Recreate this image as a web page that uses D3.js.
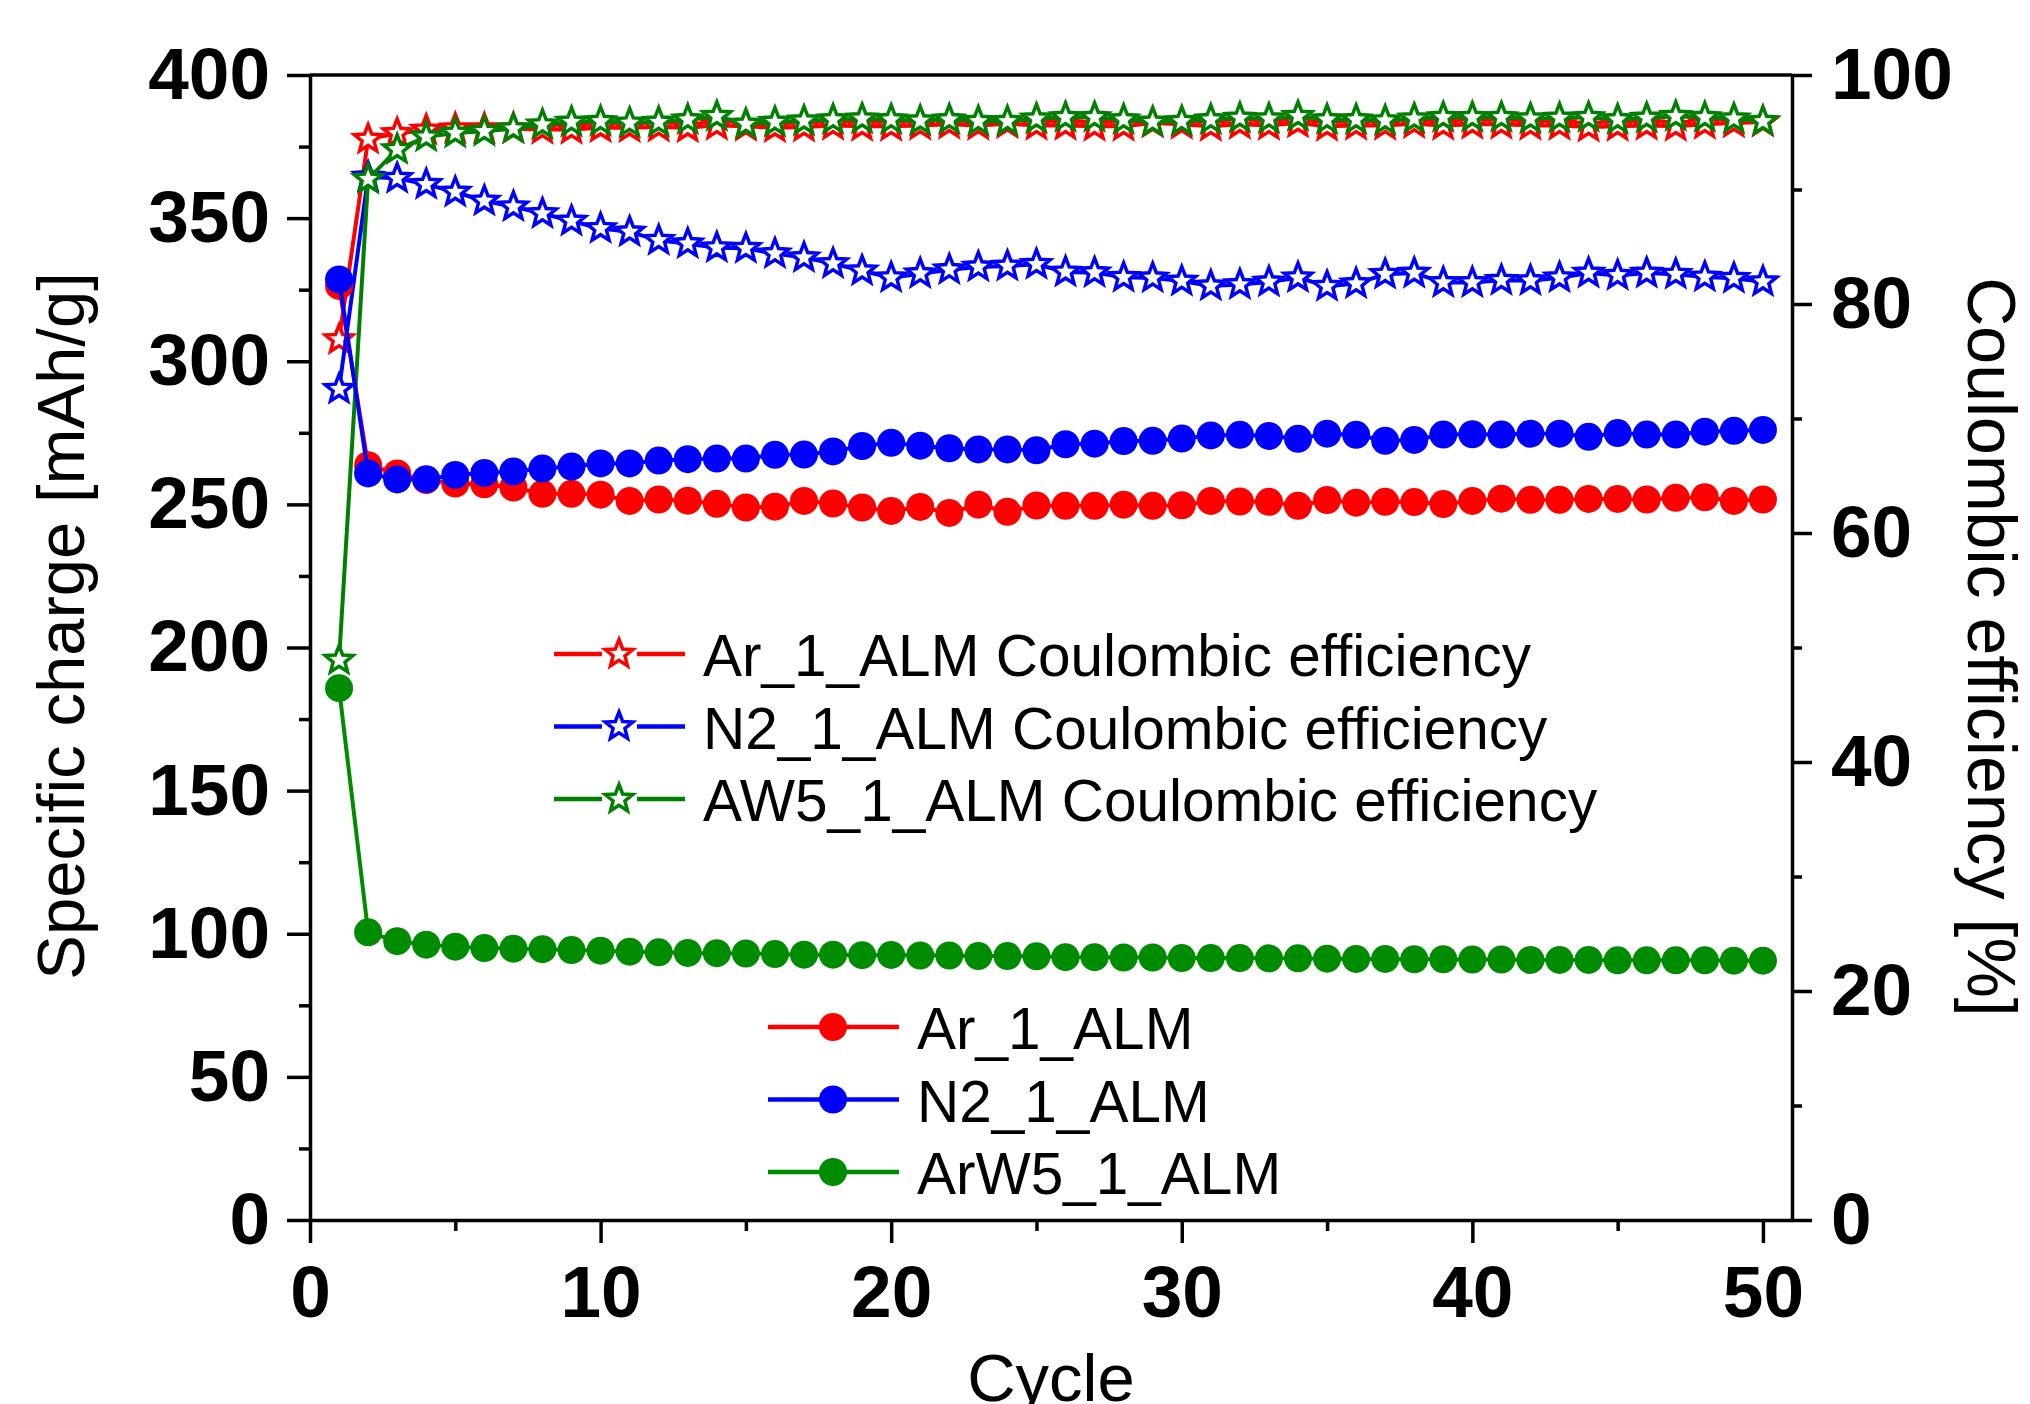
<!DOCTYPE html>
<html>
<head>
<meta charset="utf-8">
<script src="https://cdn.jsdelivr.net/npm/d3@7/dist/d3.min.js"></script>
<style>
    body { margin: 0; background: #ffffff; }
    svg text { font-family: "Liberation Sans", Arial, sans-serif; fill: #000; }
</style>
</head>
<body>
<div id="chart-container"></div>
<script>
// Cycle data
const cycles = [1, 2, 3, 4, 5, 6, 7, 8, 9, 10, 11, 12, 13, 14, 15, 16, 17, 18, 19, 20,
    21, 22, 23, 24, 25, 26, 27, 28, 29, 30, 31, 32, 33, 34, 35, 36, 37, 38, 39, 40,
    41, 42, 43, 44, 45, 46, 47, 48, 49, 50];

// Specific charge [mAh/g] (left axis)
const arCharge = [326.3, 263.7, 260.8, 258.5, 257.3, 257.0, 255.9, 253.7, 253.7, 253.4,
    251.2, 251.7, 251.3, 250.2, 248.9, 249.2, 251.2, 250.3, 248.9, 247.7,
    249.1, 247.0, 249.9, 247.4, 249.6, 249.5, 249.5, 249.9, 249.5, 249.7,
    251.2, 251.0, 250.9, 249.5, 251.5, 250.6, 250.9, 250.8, 250.1, 251.2,
    252.0, 251.6, 251.6, 251.9, 251.9, 251.7, 252.3, 252.5, 251.2, 251.7];
const n2Charge = [328.6, 260.8, 258.7, 258.8, 260.3, 261.0, 261.5, 262.5, 263.2, 264.3,
    264.3, 265.3, 265.8, 266.0, 266.0, 267.3, 267.4, 268.5, 270.4, 271.5,
    270.5, 269.6, 269.2, 269.2, 268.9, 271.0, 271.2, 272.1, 272.2, 273.0,
    274.1, 274.3, 273.9, 272.9, 274.7, 274.3, 272.2, 272.5, 274.4, 274.5,
    274.4, 274.7, 274.7, 273.6, 274.9, 274.4, 274.4, 275.4, 275.7, 276.0];
const arw5Charge = [185.8, 100.5, 97.4, 96.2, 95.5, 95.0, 94.8, 94.6, 94.3, 94.1,
    93.75, 93.5, 93.3, 93.2, 93.1, 92.9, 92.7, 92.7, 92.5, 92.6,
    92.4, 92.4, 92.2, 92.2, 92.1, 91.8, 91.8, 91.7, 91.7, 91.5,
    91.5, 91.5, 91.4, 91.4, 91.3, 91.2, 91.2, 91.1, 91.1, 91.0,
    91.0, 90.85, 90.85, 90.85, 90.7, 90.7, 90.7, 90.7, 90.6, 90.6];

// Coulombic efficiency [%] (right axis)
const arCE = [76.9, 94.4, 94.9, 95.2, 95.31, 95.31, 95.31, 95.25, 95.25, 95.4,
    95.4, 95.46, 95.4, 95.6, 95.52, 95.4, 95.46, 95.6, 95.52, 95.52,
    95.6, 95.69, 95.6, 95.75, 95.6, 95.6, 95.52, 95.52, 95.81, 95.69,
    95.52, 95.69, 95.6, 95.81, 95.52, 95.6, 95.6, 95.75, 95.6, 95.69,
    95.69, 95.6, 95.6, 95.46, 95.52, 95.6, 95.52, 95.69, 95.81, 95.89];
const n2CE = [72.56, 91.1, 90.98, 90.45, 89.78, 89.0, 88.5, 87.9, 87.25, 86.6,
    86.3, 85.56, 85.27, 84.92, 84.87, 84.4, 84.05, 83.53, 82.9, 82.3,
    82.65, 83.0, 83.24, 83.32, 83.47, 82.8, 82.74, 82.33, 82.28, 82.0,
    81.58, 81.7, 81.93, 82.3, 81.55, 81.78, 82.6, 82.7, 81.87, 81.87,
    82.07, 82.04, 82.3, 82.7, 82.5, 82.7, 82.6, 82.36, 82.25, 81.95];
const aw5CE = [48.9, 90.9, 93.5, 94.6, 94.93, 95.08, 95.31, 95.66, 95.89, 95.95,
    95.81, 95.89, 96.1, 96.39, 95.72, 95.89, 96.0, 96.1, 96.18, 96.1,
    96.0, 96.1, 95.95, 95.95, 96.18, 96.3, 96.3, 96.1, 95.89, 95.95,
    96.1, 96.24, 96.18, 96.39, 96.1, 96.1, 96.01, 96.18, 96.3, 96.3,
    96.3, 96.18, 96.24, 96.3, 96.1, 96.24, 96.39, 96.3, 96.18, 95.95];

// Tick labels
const xTicks = [0, 10, 20, 30, 40, 50];
const xMinorTicks = [5, 15, 25, 35, 45];
const leftTicks = [0, 50, 100, 150, 200, 250, 300, 350, 400];
const leftMinorTicks = [25, 75, 125, 175, 225, 275, 325, 375];
const rightTicks = [0, 20, 40, 60, 80, 100];
const rightMinorTicks = [10, 30, 50, 70, 90];

// Legend labels
const ceLabels = ['Ar_1_ALM Coulombic efficiency', 'N2_1_ALM Coulombic efficiency', 'AW5_1_ALM Coulombic efficiency'];
const chargeLabels = ['Ar_1_ALM', 'N2_1_ALM', 'ArW5_1_ALM'];

const colors = { red: '#ff0000', blue: '#0000ff', green: '#008000', greenDot: '#008c00' };

// Set up dimensions
const width = 2030, height = 1404;
const plot = { left: 310, right: 1792, top: 75, bottom: 1220 };

const svg = d3.select('#chart-container')
    .append('svg')
    .attr('width', width)
    .attr('height', height);

// Scales
const xScale = d3.scaleLinear().domain([0, 51]).range([plot.left, plot.right]);
const yLeft = d3.scaleLinear().domain([0, 400]).range([plot.bottom, plot.top]);
const yRight = d3.scaleLinear().domain([0, 100]).range([plot.bottom, plot.top]);

// Star path centred at 0,0
function starPath(r) {
    const pts = [];
    for (let i = 0; i < 10; i++) {
        const rad = i % 2 === 0 ? r : r * 0.43;
        const a = -Math.PI / 2 + i * Math.PI / 5;
        pts.push([rad * Math.cos(a), rad * Math.sin(a)]);
    }
    return 'M' + pts.map(p => p[0].toFixed(2) + ',' + p[1].toFixed(2)).join('L') + 'Z';
}
const STAR = starPath(14.5);

function styleAxis(g) {
    g.selectAll('path, line').attr('stroke', '#000').attr('stroke-width', 3.5);
    g.selectAll('text').style('font-size', '73px').style('font-weight', 'bold')
        .style('font-family', '"Liberation Sans", Arial, sans-serif');
}

// Star series (right axis)
const ceSeries = [
    { values: arCE, color: colors.red },
    { values: n2CE, color: colors.blue },
    { values: aw5CE, color: colors.green }
];
const chargeSeries = [
    { values: arCharge, color: colors.red },
    { values: n2Charge, color: colors.blue },
    { values: arw5Charge, color: colors.greenDot }
];

ceSeries.forEach(s => {
    const pts = cycles.map((c, i) => [xScale(c), yRight(s.values[i])]);
    svg.append('path')
        .attr('d', d3.line()(pts))
        .attr('fill', 'none')
        .attr('stroke', s.color)
        .attr('stroke-width', 4);
    svg.append('g').selectAll('path')
        .data(pts)
        .enter()
        .append('path')
        .attr('d', STAR)
        .attr('transform', d => `translate(${d[0]},${d[1]})`)
        .attr('fill', '#ffffff')
        .attr('stroke', s.color)
        .attr('stroke-width', 3.5)
        .attr('stroke-linejoin', 'miter');
});

// Circle series (left axis)
chargeSeries.forEach(s => {
    const pts = cycles.map((c, i) => [xScale(c), yLeft(s.values[i])]);
    svg.append('path')
        .attr('d', d3.line()(pts))
        .attr('fill', 'none')
        .attr('stroke', s.color)
        .attr('stroke-width', 4);
    svg.append('g').selectAll('circle')
        .data(pts)
        .enter()
        .append('circle')
        .attr('cx', d => d[0])
        .attr('cy', d => d[1])
        .attr('r', 14)
        .attr('fill', s.color);
});

// Frame: top and right lines
svg.append('line')
    .attr('x1', plot.left).attr('x2', plot.right)
    .attr('y1', plot.top).attr('y2', plot.top)
    .attr('stroke', '#000').attr('stroke-width', 3.5);

// X axis
svg.append('g')
    .attr('transform', `translate(0,${plot.bottom})`)
    .call(d3.axisBottom(xScale).tickValues(xTicks).tickSize(23).tickSizeOuter(0).tickPadding(22))
    .call(styleAxis);
svg.append('g')
    .attr('transform', `translate(0,${plot.bottom})`)
    .call(d3.axisBottom(xScale).tickValues(xMinorTicks).tickSize(11).tickFormat(''))
    .call(g => g.select('.domain').remove())
    .call(styleAxis);

// Left axis
svg.append('g')
    .attr('transform', `translate(${plot.left},0)`)
    .call(d3.axisLeft(yLeft).tickValues(leftTicks).tickSize(23).tickSizeOuter(0).tickPadding(17))
    .call(styleAxis);
svg.append('g')
    .attr('transform', `translate(${plot.left},0)`)
    .call(d3.axisLeft(yLeft).tickValues(leftMinorTicks).tickSize(11).tickFormat(''))
    .call(g => g.select('.domain').remove())
    .call(styleAxis);

// Right axis
svg.append('g')
    .attr('transform', `translate(${plot.right},0)`)
    .call(d3.axisRight(yRight).tickValues(rightTicks).tickSize(20).tickSizeOuter(0).tickPadding(19))
    .call(styleAxis);
svg.append('g')
    .attr('transform', `translate(${plot.right},0)`)
    .call(d3.axisRight(yRight).tickValues(rightMinorTicks).tickSize(10).tickFormat(''))
    .call(g => g.select('.domain').remove())
    .call(styleAxis);

// Axis titles
svg.append('text')
    .attr('transform', 'translate(84,626) rotate(-90)')
    .attr('text-anchor', 'middle')
    .style('font-size', '67px')
    .text('Specific charge [mAh/g]');
svg.append('text')
    .attr('transform', 'translate(1968,647) rotate(90)')
    .attr('text-anchor', 'middle')
    .style('font-size', '68px')
    .text('Coulombic efficiency [%]');
svg.append('text')
    .attr('x', 1051)
    .attr('y', 1401)
    .attr('text-anchor', 'middle')
    .style('font-size', '67px')
    .text('Cycle');

// Legend for efficiency (stars)
const ceLegend = svg.append('g');
ceSeries.forEach((s, i) => {
    const y = 654 + i * 72.5;
    ceLegend.append('line')
        .attr('x1', 554).attr('x2', 602).attr('y1', y).attr('y2', y)
        .attr('stroke', s.color).attr('stroke-width', 4.5);
    ceLegend.append('line')
        .attr('x1', 637).attr('x2', 685).attr('y1', y).attr('y2', y)
        .attr('stroke', s.color).attr('stroke-width', 4.5);
    ceLegend.append('path')
        .attr('d', STAR)
        .attr('transform', `translate(619,${y})`)
        .attr('fill', '#ffffff')
        .attr('stroke', s.color)
        .attr('stroke-width', 3.5);
    ceLegend.append('text')
        .attr('x', 703)
        .attr('y', y + 22)
        .style('font-size', '58.5px')
        .text(ceLabels[i]);
});

// Legend for specific charge (circles)
const chargeLegend = svg.append('g');
chargeSeries.forEach((s, i) => {
    const y = 1027 + i * 72.5;
    chargeLegend.append('line')
        .attr('x1', 768).attr('x2', 899).attr('y1', y).attr('y2', y)
        .attr('stroke', s.color).attr('stroke-width', 4.5);
    chargeLegend.append('circle')
        .attr('cx', 833).attr('cy', y).attr('r', 14)
        .attr('fill', s.color);
    chargeLegend.append('text')
        .attr('x', 917)
        .attr('y', y + 22)
        .style('font-size', '58.5px')
        .text(chargeLabels[i]);
});
</script>
</body>
</html>
